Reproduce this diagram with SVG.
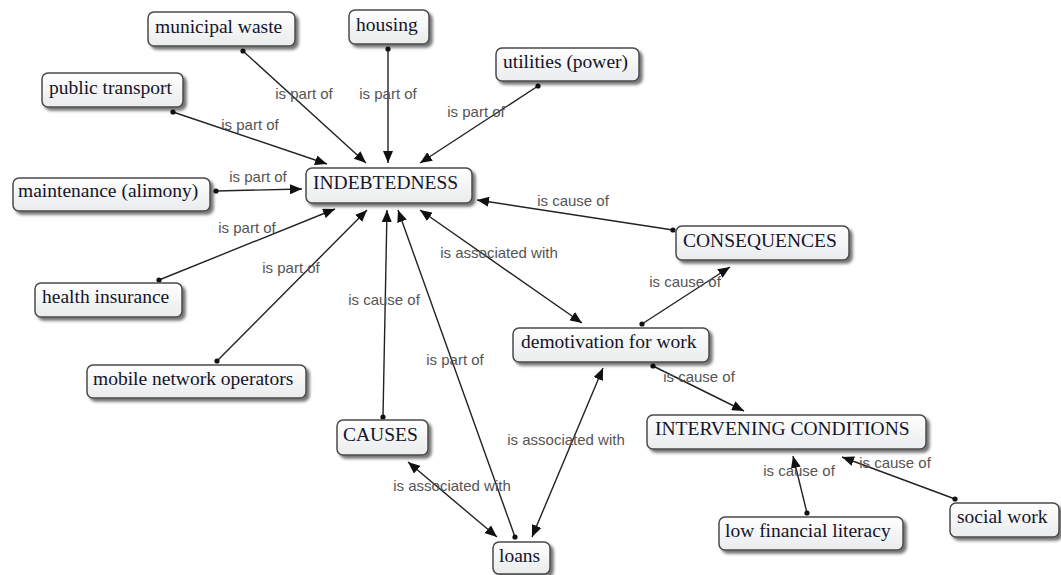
<svg xmlns="http://www.w3.org/2000/svg" width="1061" height="575" viewBox="0 0 1061 575">
<defs>
<linearGradient id="g" x1="0" y1="0" x2="0" y2="1">
<stop offset="0" stop-color="#ffffff"/>
<stop offset="1" stop-color="#e9ebec"/>
</linearGradient>
<filter id="sh" x="-10%" y="-20%" width="130%" height="160%">
<feDropShadow dx="3" dy="3" stdDeviation="1.8" flood-color="#000" flood-opacity="0.55"/>
</filter>
<marker id="arr" viewBox="0 0 12 10" refX="12" refY="5" markerWidth="12" markerHeight="10" markerUnits="userSpaceOnUse" orient="auto-start-reverse">
<path d="M0,0 L12,5 L0,10 Z" fill="#111"/>
</marker>
<marker id="dot" viewBox="0 0 6 6" refX="3" refY="3" markerWidth="6" markerHeight="6" markerUnits="userSpaceOnUse">
<circle cx="3" cy="3" r="2.6" fill="#111"/>
</marker>
</defs>
<style>
.box{fill:url(#g);stroke:#4a4a4a;stroke-width:1.5;filter:url(#sh)}
.nt{font-family:"Liberation Serif","Times New Roman",serif;font-size:19.5px;fill:#14142a}
.ln{stroke:#222;stroke-width:1.4;fill:none;marker-end:url(#arr);marker-start:url(#dot)}
.bi{stroke:#222;stroke-width:1.4;fill:none;marker-end:url(#arr);marker-start:url(#arr)}
.lb{font-family:"Liberation Sans",Arial,sans-serif;font-size:15px;fill:#555;text-anchor:middle}
</style>
<rect width="1061" height="575" fill="#fff"/>
<g id="connectors">
<line class="ln" x1="243" y1="51" x2="366" y2="163"/>
<line class="ln" x1="388" y1="49" x2="388" y2="163"/>
<line class="ln" x1="538" y1="86" x2="420" y2="163"/>
<line class="ln" x1="173" y1="112" x2="327" y2="164"/>
<line class="ln" x1="216" y1="191" x2="302" y2="189"/>
<line class="ln" x1="159" y1="280" x2="335" y2="209"/>
<line class="ln" x1="217" y1="361" x2="367" y2="210"/>
<line class="ln" x1="383" y1="417" x2="387" y2="210"/>
<line class="ln" x1="515" y1="537" x2="398" y2="210"/>
<line class="bi" x1="420" y1="210" x2="582" y2="323"/>
<line class="ln" x1="673" y1="230" x2="477" y2="200"/>
<line class="ln" x1="642" y1="324" x2="730" y2="267"/>
<line class="ln" x1="653" y1="366" x2="744" y2="411"/>
<line class="bi" x1="408" y1="462" x2="497" y2="537"/>
<line class="bi" x1="532" y1="537" x2="603" y2="368"/>
<line class="ln" x1="807" y1="513" x2="793" y2="456"/>
<line class="ln" x1="955" y1="499" x2="842" y2="457"/>
<text class="lb" x="304" y="99">is part of</text>
<text class="lb" x="388" y="99">is part of</text>
<text class="lb" x="476" y="117">is part of</text>
<text class="lb" x="250" y="130">is part of</text>
<text class="lb" x="258" y="182">is part of</text>
<text class="lb" x="247" y="233">is part of</text>
<text class="lb" x="291" y="273">is part of</text>
<text class="lb" x="384" y="305">is cause of</text>
<text class="lb" x="455" y="365">is part of</text>
<text class="lb" x="499" y="258">is associated with</text>
<text class="lb" x="573" y="206">is cause of</text>
<text class="lb" x="685" y="287">is cause of</text>
<text class="lb" x="699" y="382">is cause of</text>
<text class="lb" x="452" y="491">is associated with</text>
<text class="lb" x="566" y="445">is associated with</text>
<text class="lb" x="799" y="476">is cause of</text>
<text class="lb" x="895" y="468">is cause of</text>
</g>
<g id="n-municipal"><rect class="box" x="148" y="12" width="147" height="34" rx="6"/><text class="nt" x="155" y="33">municipal waste</text></g>
<g id="n-housing"><rect class="box" x="349" y="10" width="80" height="34" rx="6"/><text class="nt" x="356" y="31">housing</text></g>
<g id="n-utilities"><rect class="box" x="496" y="48" width="143" height="33" rx="6"/><text class="nt" x="503" y="68">utilities (power)</text></g>
<g id="n-transport"><rect class="box" x="42" y="73" width="141" height="34" rx="6"/><text class="nt" x="49" y="94">public transport</text></g>
<g id="n-indebtedness"><rect class="box" x="306" y="168" width="166" height="35" rx="6"/><text class="nt" x="313" y="189">INDEBTEDNESS</text></g>
<g id="n-maintenance"><rect class="box" x="13" y="178" width="197" height="33" rx="6"/><text class="nt" x="18" y="197">maintenance (alimony)</text></g>
<g id="n-health"><rect class="box" x="35" y="283" width="147" height="34" rx="6"/><text class="nt" x="42" y="303">health insurance</text></g>
<g id="n-mobile"><rect class="box" x="87" y="365" width="219" height="33" rx="6"/><text class="nt" x="93" y="385">mobile network operators</text></g>
<g id="n-consequences"><rect class="box" x="676" y="226" width="173" height="34" rx="6"/><text class="nt" x="683" y="247">CONSEQUENCES</text></g>
<g id="n-demotivation"><rect class="box" x="513" y="328" width="196" height="34" rx="6"/><text class="nt" x="521" y="348">demotivation for work</text></g>
<g id="n-causes"><rect class="box" x="337" y="420" width="91" height="35" rx="6"/><text class="nt" x="343" y="441">CAUSES</text></g>
<g id="n-loans"><rect class="box" x="493" y="542" width="57" height="32" rx="6"/><text class="nt" x="499" y="562">loans</text></g>
<g id="n-intervening"><rect class="box" x="647" y="415" width="279" height="34" rx="6"/><text class="nt" x="655" y="435">INTERVENING CONDITIONS</text></g>
<g id="n-literacy"><rect class="box" x="719" y="517" width="184" height="33" rx="6"/><text class="nt" x="725" y="537">low financial literacy</text></g>
<g id="n-social"><rect class="box" x="950" y="503" width="109" height="34" rx="6"/><text class="nt" x="957" y="523">social work</text></g>
</svg>
